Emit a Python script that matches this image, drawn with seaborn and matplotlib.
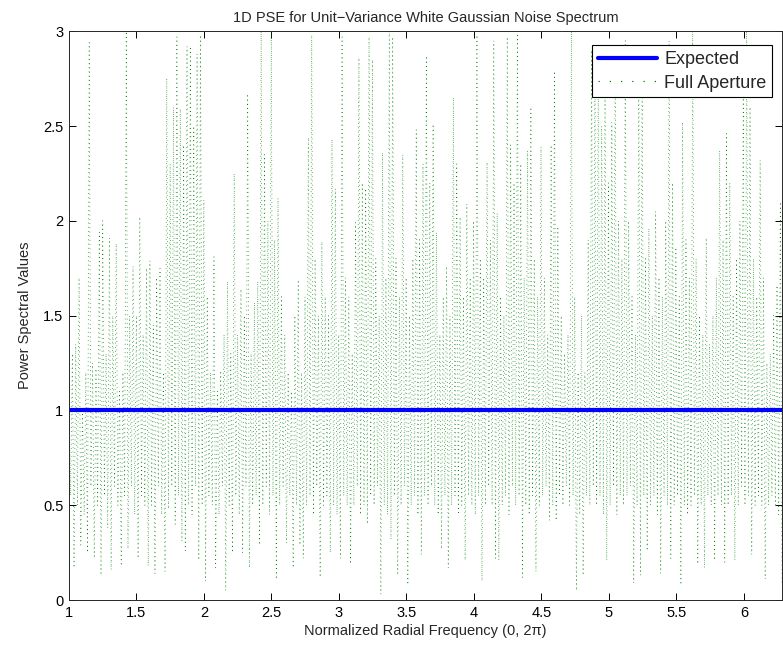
import numpy as np
import pandas as pd
import seaborn as sns
import matplotlib
matplotlib.use("Agg")
import matplotlib.pyplot as plt
from matplotlib.ticker import FuncFormatter

# periodogram: the trace swings between a high and a
# low value, one pair every 0.025 in normalized frequency (1 .. 2*pi)
peak_vals = [
    1.10, 1.30, 1.35, 1.70,  1.00, 1.20, 2.94, 1.25,  1.22, 1.94, 2.00, 1.30,
    1.91, 1.50, 1.88, 1.10,  1.20, 3.00, 1.50, 1.76,  1.50, 2.02, 1.40, 1.75,
    1.79, 1.45, 1.70, 1.75,  1.20, 2.75, 2.30, 2.60,  2.97, 2.59, 2.40, 2.92,
    2.92, 2.50, 2.88, 2.98,  2.11, 1.60, 1.20, 1.81,  1.10, 1.21, 1.40, 1.68,
    1.30, 2.25, 1.40, 1.64,  1.50, 2.67, 1.30, 1.57,  1.68, 3.00, 2.35, 2.00,
    3.00, 1.90, 2.12, 1.60,  1.40, 1.20, 1.10, 1.50,  1.69, 1.20, 1.60, 2.44,
    2.98, 1.80, 1.50, 1.89,  1.60, 1.50, 2.43, 2.17,  1.40, 2.97, 1.70, 1.60,
    1.30, 1.99, 2.86, 2.20,  2.17, 2.97, 2.85, 1.80,  1.50, 2.36, 1.70, 3.00,
    2.97, 1.80, 1.60, 2.35,  1.70, 1.50, 1.80, 2.48,  1.90, 2.30, 2.87, 2.20,
    2.51, 1.94, 1.40, 1.60,  1.76, 1.50, 2.65, 2.30,  2.02, 1.60, 2.09, 1.70,
    2.00, 2.98, 1.80, 1.70,  2.31, 1.90, 2.95, 2.04,  1.60, 1.50, 2.97, 2.40,
    2.20, 3.00, 2.30, 1.70,  2.37, 2.60, 1.80, 1.60,  2.39, 1.70, 1.40, 2.40,
    2.79, 1.97, 1.50, 1.30,  1.40, 3.00, 1.60, 1.20,  1.50, 1.20, 1.90, 2.90,
    2.80, 2.90, 2.50, 2.70,  2.20, 2.52, 2.90, 2.00,  1.80, 2.95, 2.00, 1.60,
    1.40, 2.90, 2.85, 1.80,  1.96, 1.50, 2.05, 1.70,  1.60, 2.00, 2.95, 2.20,
    1.86, 1.60, 2.52, 1.90,  1.70, 3.00, 1.80, 1.50,  1.40, 1.91, 1.35, 1.50,
    1.70, 2.37, 1.90, 2.46,  2.20, 1.60, 1.80, 2.00,  2.66, 3.00, 2.60, 1.80,
    1.60, 2.32, 1.70, 1.25,  1.30, 1.50, 1.66, 2.10,
]
trough_vals = [
    0.55, 0.17, 0.50, 0.29,  0.45, 0.25, 0.60, 0.22,  0.50, 0.13, 0.55, 0.38,
    0.16, 0.60, 0.50, 0.18,  0.55, 0.27, 0.60, 0.45,  0.22, 0.55, 0.50, 0.18,
    0.50, 0.14, 0.60, 0.45,  0.15, 0.48, 0.60, 0.40,  0.55, 0.31, 0.26, 0.50,
    0.45, 0.60, 0.21, 0.50,  0.10, 0.55, 0.50, 0.17,  0.45, 0.60, 0.05, 0.50,
    0.25, 0.55, 0.45, 0.25,  0.60, 0.17, 0.50, 0.55,  0.29, 0.50, 0.60, 0.45,
    0.55, 0.11, 0.50, 0.60,  0.30, 0.55, 0.17, 0.50,  0.29, 0.22, 0.50, 0.55,
    0.45, 0.60, 0.12, 0.50,  0.55, 0.25, 0.50, 0.45,  0.22, 0.55, 0.50, 0.19,
    0.50, 0.60, 0.45, 0.50,  0.40, 0.55, 0.50, 0.60,  0.03, 0.50, 0.45, 0.32,
    0.55, 0.13, 0.50, 0.60,  0.08, 0.50, 0.55, 0.45,  0.24, 0.55, 0.50, 0.60,
    0.50, 0.45, 0.27, 0.55,  0.17, 0.50, 0.55, 0.45,  0.50, 0.21, 0.55, 0.50,
    0.45, 0.55, 0.10, 0.50,  0.60, 0.50, 0.22, 0.21,  0.50, 0.55, 0.45, 0.60,
    0.50, 0.55, 0.12, 0.50,  0.45, 0.55, 0.15, 0.50,  0.55, 0.60, 0.42, 0.50,
    0.42, 0.55, 0.50, 0.60,  0.50, 0.55, 0.05, 0.45,  0.13, 0.55, 0.50, 0.60,
    0.50, 0.55, 0.45, 0.21,  0.50, 0.60, 0.45, 0.55,  0.50, 0.55, 0.60, 0.09,
    0.50, 0.13, 0.55, 0.26,  0.50, 0.55, 0.45, 0.14,  0.55, 0.50, 0.22, 0.50,
    0.55, 0.08, 0.50, 0.45,  0.50, 0.55, 0.19, 0.50,  0.17, 0.55, 0.50, 0.21,
    0.55, 0.50, 0.20, 0.50,  0.55, 0.21, 0.50, 0.60,  0.50, 0.55, 0.24, 0.50,
    0.55, 0.50, 0.11, 0.50,  0.55, 0.50, 0.45, 0.08,
]
expected_freq = [1.0, 2 * np.pi]
expected_vals = [1.0, 1.0]
x_ticks = [1, 1.5, 2, 2.5, 3, 3.5, 4, 4.5, 5, 5.5, 6]
y_ticks = [0, 0.5, 1, 1.5, 2, 2.5, 3]

# interleave high / low swings on the frequency grid
freq = np.linspace(1.0, 2 * np.pi, 2 * len(peak_vals))
psd = np.empty(freq.size)
psd[0::2] = peak_vals
psd[1::2] = trough_vals
noise = pd.DataFrame({"freq": freq, "psd": psd})
expected = pd.DataFrame({"freq": expected_freq, "psd": expected_vals})

sns.set_theme(style="ticks")
plt.rcParams["font.family"] = ["Liberation Sans", "DejaVu Sans"]
plt.rcParams["axes.linewidth"] = 0.7

fig = plt.figure(figsize=(7.83, 6.51), dpi=100)
ax = fig.add_axes([0.0881, 0.0783, 0.9107, 0.8737])

sns.lineplot(data=noise, x="freq", y="psd", ax=ax, color=(0, 0.5, 0),
             linewidth=0.55, estimator=None, sort=False, label="Full Aperture")
ax.lines[-1].set_dashes((1, 4.5))
sns.lineplot(data=expected, x="freq", y="psd", ax=ax, color=(0, 0, 1),
             linewidth=3, estimator=None, sort=False, label="Expected")

ax.set_xlim(1, 2 * np.pi)
ax.set_ylim(0, 3)
ax.set_xticks(x_ticks)
ax.set_yticks(y_ticks)
fmt = FuncFormatter(lambda v, p: "%g" % v)
ax.xaxis.set_major_formatter(fmt)
ax.yaxis.set_major_formatter(fmt)
ax.tick_params(direction="in", length=5, width=0.7, top=True, right=True,
               labelsize=10.5, colors="black", pad=4)

ax.set_title("1D PSE for Unit\u2212Variance White Gaussian Noise Spectrum",
             fontsize=10.5, pad=7)
ax.set_xlabel("Normalized Radial Frequency (0, 2\u03c0)", fontsize=10.5, labelpad=3)
ax.set_ylabel("Power Spectral Values", fontsize=10.5, labelpad=8)

handles, labels = ax.get_legend_handles_labels()
leg = ax.legend(handles[::-1], labels[::-1], loc="upper right", fontsize=13,
                bbox_to_anchor=(0.986, 0.975), borderaxespad=0,
                fancybox=False, framealpha=1, edgecolor="black",
                handlelength=3.3, borderpad=0.3,
                labelspacing=0.38, handletextpad=0.4)
leg.get_frame().set_linewidth(0.8)
leg.get_lines()[1].set_dashes((1, 8))
leg.get_lines()[1].set_linewidth(0.9)

fig.savefig("out.png", dpi=100)
